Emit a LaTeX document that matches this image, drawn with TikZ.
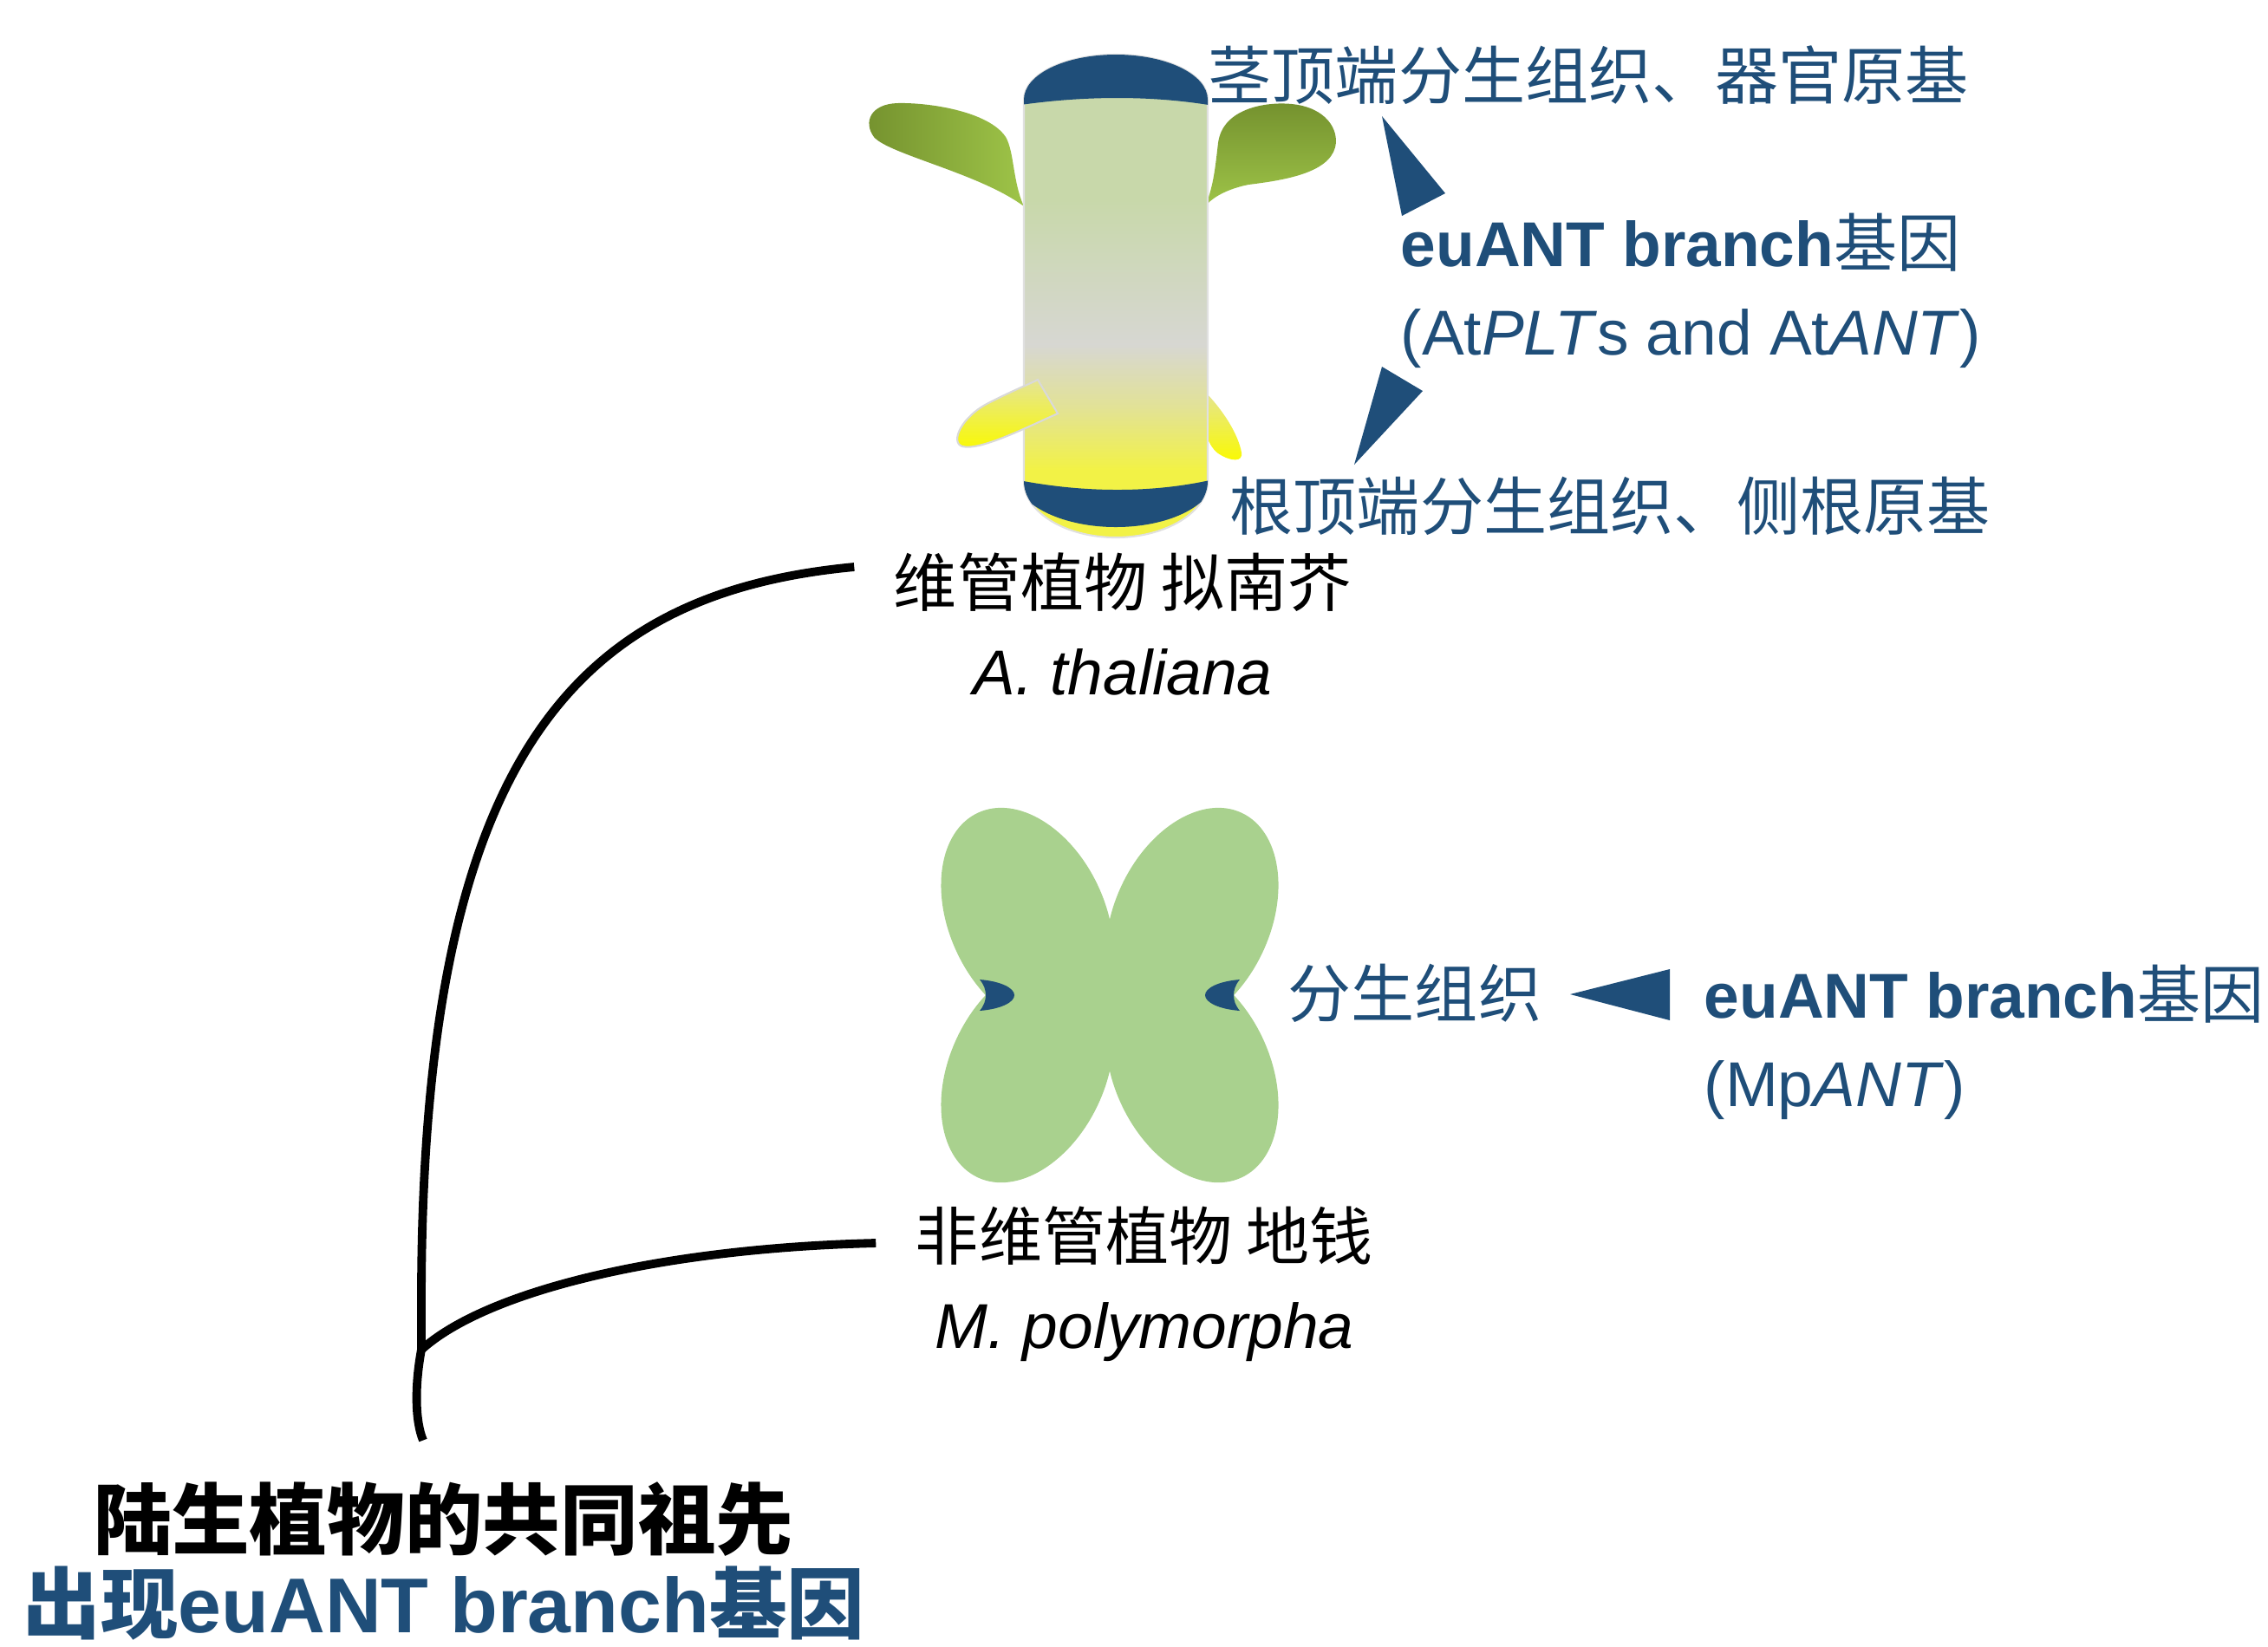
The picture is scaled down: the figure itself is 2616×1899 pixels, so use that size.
\documentclass[tikz,border=0pt]{standalone}
\usepackage{fontspec}
\setmainfont{Liberation Sans}
\newfontfamily\cjk{Noto Sans CJK SC}
\newcommand{\zh}[1]{{\cjk #1}}
\usetikzlibrary{positioning,calc}
\definecolor{GeneBlue}{RGB}{31,78,121}
\definecolor{LeafDark}{RGB}{116,145,46}
\definecolor{LeafLight}{RGB}{158,196,72}
\definecolor{ThallusGreen}{RGB}{169,209,142}
\definecolor{StemTop}{RGB}{200,216,170}
\definecolor{StemMid}{RGB}{215,215,210}
\definecolor{StemPale}{RGB}{226,226,150}
\definecolor{StemLow}{RGB}{242,242,70}
\definecolor{RootPale}{RGB}{228,228,150}
\definecolor{RootYellow}{RGB}{250,250,0}
\pgfdeclareverticalshading{stemshade}{100bp}{color(0bp)=(StemLow); color(32bp)=(StemLow);
  color(38.5bp)=(StemPale); color(45bp)=(StemMid); color(60bp)=(StemTop); color(100bp)=(StemTop)}

\begin{document}
\begin{tikzpicture}[x=0.1mm, y=-0.1mm,
  lbl/.style={inner sep=0pt, font=\fontsize{20.8pt}{25pt}\selectfont, text height=18.3pt, text depth=2.5pt},
  blu/.style={lbl, text=GeneBlue},
  big/.style={inner sep=0pt, font=\fontsize{25.5pt}{30pt}\selectfont\bfseries, text height=22.4pt, text depth=3.1pt},
  branch/.style={line width=2.8pt},
  tri/.style={fill=GeneBlue}]
\useasboundingbox (0,0) rectangle (2616,1899);

% seedling: leaves and the small root behind the stem
\shade[left color=LeafDark, right color=LeafLight] (1181,238) .. controls (1168,210) and (1170,175) .. (1160,158)
  .. controls (1140,128) and (1070,118) .. (1035,119) .. controls (1005,120) and (995,140) .. (1008,158)
  .. controls (1025,178) and (1130,200) .. (1181,238) -- cycle;
\shade[top color=LeafDark, bottom color=LeafLight] (1390,238) .. controls (1400,215) and (1402,190) .. (1405,165)
  .. controls (1410,125) and (1460,117) .. (1490,120) .. controls (1530,124) and (1545,150) .. (1540,170)
  .. controls (1532,200) and (1480,208) .. (1440,213) .. controls (1415,218) and (1398,228) .. (1390,238) -- cycle;
\shade[top color=RootPale, bottom color=RootYellow] (1388,450) .. controls (1410,472) and (1428,500) .. (1432,522)
  .. controls (1434,533) and (1420,533) .. (1405,523) .. controls (1398,518) and (1393,508) .. (1390,498) -- cycle;

% stem
\shade[shading=stemshade, draw=black!12, line width=0.6pt]
  (1181,115) .. controls (1181,86) and (1228,63) .. (1287,63) .. controls (1346,63) and (1393,86) .. (1393,115)
  -- (1393,555) .. controls (1393,590) and (1346,620) .. (1287,620) .. controls (1228,620) and (1181,590) .. (1181,555) -- cycle;
\begin{scope}
  \clip (1181,115) .. controls (1181,86) and (1228,63) .. (1287,63) .. controls (1346,63) and (1393,86) .. (1393,115)
    -- (1393,555) .. controls (1393,590) and (1346,620) .. (1287,620) .. controls (1228,620) and (1181,590) .. (1181,555) -- cycle;
  \fill[GeneBlue] (1170,40) -- (1400,40) -- (1400,122) .. controls (1330,110) and (1250,110) .. (1170,122) -- cycle;
  \fill[GeneBlue] (1170,553) .. controls (1250,569) and (1330,569) .. (1400,553) -- (1400,555)
    .. controls (1395,585) and (1346,608) .. (1287,608) .. controls (1228,608) and (1179,585) .. (1170,555) -- cycle;
\end{scope}
% lateral root over the stem
\shade[top color=RootPale, bottom color=RootYellow, draw=black!15, line width=0.6pt]
  (1197,438) -- (1220,477) .. controls (1180,495) and (1130,520) .. (1110,515)
  .. controls (1095,510) and (1110,480) .. (1140,465) .. controls (1165,452) and (1185,444) .. (1197,438) -- cycle;

% liverwort thallus
\foreach \cx/\cy/\ang in {1375/1060/65, 1185/1060/-65, 1375/1236/-65, 1185/1236/65}
  \fill[ThallusGreen, rotate around={\ang:(\cx,\cy)}] (\cx,\cy) ellipse[x radius=13.5mm, y radius=9mm];
\fill[ThallusGreen] (1280,1148) ellipse[x radius=11mm, y radius=6mm];
\fill[GeneBlue] (1430,1130) .. controls (1405,1132) and (1390,1140) .. (1390,1148) .. controls (1390,1156) and (1405,1164) .. (1430,1166)
  .. controls (1425,1160) and (1423,1154) .. (1423,1148) .. controls (1423,1142) and (1425,1136) .. (1430,1130) -- cycle;
\fill[GeneBlue] (1130,1130) .. controls (1155,1132) and (1170,1140) .. (1170,1148) .. controls (1170,1156) and (1155,1164) .. (1130,1166)
  .. controls (1135,1160) and (1137,1154) .. (1137,1148) .. controls (1137,1142) and (1135,1136) .. (1130,1130) -- cycle;

% labels
\node[blu, anchor=west] (shoot) at (1393,87) {\zh{茎顶端分生组织、器官原基}};
\node[blu, anchor=west] (atgenes) at (1615,280) {\textbf{euANT branch}\zh{基因}};
\node[blu, below=2.7mm of atgenes.south west, anchor=north west] (atnames) {(At\textit{PLT}s and At\textit{ANT})};
\node[blu, anchor=west] (root) at (1418,584) {\zh{根顶端分生组织、侧根原基}};
\node[lbl] (atname) at (1295,672) {\zh{维管植物 拟南芥}};
\node[lbl, below=2.7mm of atname] (atlatin) {\textit{A. thaliana}};
\node[blu, anchor=west] (mer) at (1485,1146) {\zh{分生组织}};
\node[blu, anchor=west] (mpgenes) at (1965,1147) {\textbf{euANT branch}\zh{基因}};
\node[blu, below=2.7mm of mpgenes.south west, anchor=north west] (mpnames) {(Mp\textit{ANT})};
\node[lbl] (mpname) at (1320,1426) {\zh{非维管植物 地钱}};
\node[lbl, below=2.7mm of mpname] (mplatin) {\textit{M. polymorpha}};
\node[big] (anc) at (512,1753) {\zh{陆生植物的共同祖先}};
\node[big, text=GeneBlue, below=0.6mm of anc] (ancgene) {\zh{出现}euANT branch\zh{基因}};

% expression pointers
\fill[tri] (1594,134) -- (1667,223) -- (1617,249) -- cycle;
\fill[tri] (1562,536) -- (1594,423) -- (1641,451) -- cycle;
\fill[tri] (1811,1147) -- (1926,1118) -- (1926,1177) -- cycle;

% tree
\coordinate (attip) at ([xshift=-4.5mm,yshift=1.8mm]atname.west);
\coordinate (mptip) at ([xshift=-4.5mm,yshift=-0.8mm]mpname.west);
\coordinate (base) at ([xshift=-2.4mm,yshift=4.6mm]anc.north);
\coordinate (fork) at (486,1557);
\draw[branch] (attip) .. controls (667,684) and (486,867) .. (486,1501) -- (fork);
\draw[branch] (mptip) .. controls (760,1440) and (560,1490) .. (fork);
\draw[branch] (fork) .. controls (478,1600) and (479,1640) .. (base);
\end{tikzpicture}
\end{document}
